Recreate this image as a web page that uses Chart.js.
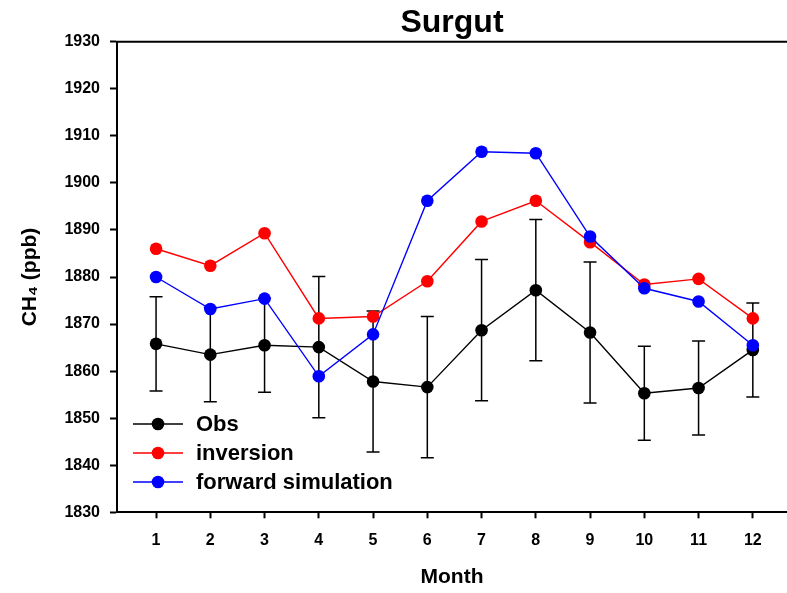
<!DOCTYPE html>
<html>
<head>
<meta charset="utf-8">
<script src="https://cdn.jsdelivr.net/npm/chart.js@4.4.1/dist/chart.umd.min.js"></script>
<style>
  body { margin: 0; background: #fff; }
  canvas { display: block; }
</style>
</head>
<body>
<canvas id="chart" width="787" height="593"></canvas>
<script>
// Monthly CH4 at Surgut (ppb)
const months = [1, 2, 3, 4, 5, 6, 7, 8, 9, 10, 11, 12];
const obs = [1865.8, 1863.5, 1865.5, 1865.1, 1857.8, 1856.6, 1868.7, 1877.2, 1868.2, 1855.3, 1856.4, 1864.5];
const obsErr = [10, 10, 10, 15, 15, 15, 15, 15, 15, 10, 10, 10];
const inversion = [1886.0, 1882.4, 1889.3, 1871.2, 1871.6, 1879.1, 1891.8, 1896.2, 1887.4, 1878.4, 1879.6, 1871.2];
const forward = [1880.0, 1873.2, 1875.4, 1858.9, 1867.8, 1896.2, 1906.6, 1906.3, 1888.6, 1877.6, 1874.8, 1865.5];
const yTicks = [1830, 1840, 1850, 1860, 1870, 1880, 1890, 1900, 1910, 1920, 1930];

const FONT = '"Liberation Sans", Arial, sans-serif';

const toXY = arr => arr.map((v, i) => ({ x: months[i], y: v }));

// error bars for Obs, drawn under the lines
const errorBars = {
    id: 'errorBars',
    beforeDatasetsDraw(chart) {
        const { ctx, scales: { x, y } } = chart;
        ctx.save();
        ctx.strokeStyle = '#000';
        ctx.lineWidth = 1.5;
        months.forEach((m, i) => {
            const px = x.getPixelForValue(m);
            const top = y.getPixelForValue(obs[i] + obsErr[i]);
            const bot = y.getPixelForValue(obs[i] - obsErr[i]);
            ctx.beginPath();
            ctx.moveTo(px, top); ctx.lineTo(px, bot);
            ctx.moveTo(px - 6.5, top); ctx.lineTo(px + 6.5, top);
            ctx.moveTo(px - 6.5, bot); ctx.lineTo(px + 6.5, bot);
            ctx.stroke();
        });
        ctx.restore();
    }
};

// top frame line + legend inside the plot
const frameAndLegend = {
    id: 'frameAndLegend',
    afterDraw(chart) {
        const { ctx, chartArea } = chart;
        ctx.save();
        ctx.strokeStyle = '#000';
        ctx.lineWidth = 2;
        ctx.beginPath();
        ctx.moveTo(chartArea.left - 1, chartArea.top);
        ctx.lineTo(chartArea.right, chartArea.top);
        ctx.stroke();

        const items = [
            { label: 'Obs', color: '#000', y: 424 },
            { label: 'inversion', color: '#ff0000', y: 453 },
            { label: 'forward simulation', color: '#0000ff', y: 482 }
        ];
        ctx.font = 'bold 22px ' + FONT;
        ctx.textBaseline = 'middle';
        ctx.textAlign = 'left';
        items.forEach(it => {
            ctx.strokeStyle = it.color;
            ctx.lineWidth = 1.4;
            ctx.beginPath();
            ctx.moveTo(133, it.y); ctx.lineTo(183, it.y);
            ctx.stroke();
            ctx.fillStyle = it.color;
            ctx.beginPath();
            ctx.arc(158, it.y, 6.3, 0, Math.PI * 2);
            ctx.fill();
            ctx.fillStyle = '#000';
            ctx.fillText(it.label, 196, it.y + 1);
        });
        ctx.restore();
    }
};

const series = (label, data, color, order) => ({
    label: label,
    data: toXY(data),
    borderColor: color,
    backgroundColor: color,
    borderWidth: 1.4,
    pointRadius: 6.3,
    pointHoverRadius: 6.3,
    pointBorderWidth: 0,
    tension: 0,
    order: order
});

new Chart(document.getElementById('chart').getContext('2d'), {
    type: 'line',
    data: {
        datasets: [
            series('Obs', obs, '#000000', 2),
            series('inversion', inversion, '#ff0000', 1),
            series('forward simulation', forward, '#0000ff', 0)
        ]
    },
    options: {
        responsive: false,
        animation: false,
        layout: { autoPadding: false, padding: 0 },
        plugins: {
            legend: { display: false },
            tooltip: { enabled: false },
            title: {
                display: true,
                text: 'Surgut',
                fullSize: false,
                color: '#000',
                font: { family: FONT, size: 32, weight: 'bold', lineHeight: 1.1 },
                padding: { top: 6, bottom: 0.5 }
            }
        },
        scales: {
            x: {
                type: 'linear',
                min: 0.28,
                max: 12.63,
                afterBuildTicks: s => { s.ticks = months.map(v => ({ value: v })); },
                afterFit: s => { s.height = 80.7; },
                grid: { drawOnChartArea: false, tickLength: 6, tickWidth: 2, color: '#000' },
                border: { color: '#000', width: 2 },
                ticks: {
                    color: '#000',
                    padding: 13,
                    maxRotation: 0,
                    font: { family: FONT, size: 16, weight: 'bold' }
                },
                title: {
                    display: true,
                    text: 'Month',
                    color: '#000',
                    font: { family: FONT, size: 21, weight: 'bold' },
                    padding: { top: 0, bottom: 3 }
                }
            },
            y: {
                min: 1830,
                max: 1930,
                afterBuildTicks: s => { s.ticks = yTicks.map(v => ({ value: v })); },
                afterFit: s => { s.width = 117; },
                grid: { drawOnChartArea: false, tickLength: 7, tickWidth: 2, color: '#000' },
                border: { color: '#000', width: 2 },
                ticks: {
                    color: '#000',
                    padding: 10,
                    font: { family: FONT, size: 16, weight: 'bold' },
                    callback: v => String(v)
                },
                title: {
                    display: true,
                    text: 'CH₄ (ppb)',
                    color: '#000',
                    font: { family: FONT, size: 21, weight: 'bold' },
                    padding: { top: 17.5, bottom: 0 }
                }
            }
        }
    },
    plugins: [errorBars, frameAndLegend]
});
</script>
</body>
</html>
